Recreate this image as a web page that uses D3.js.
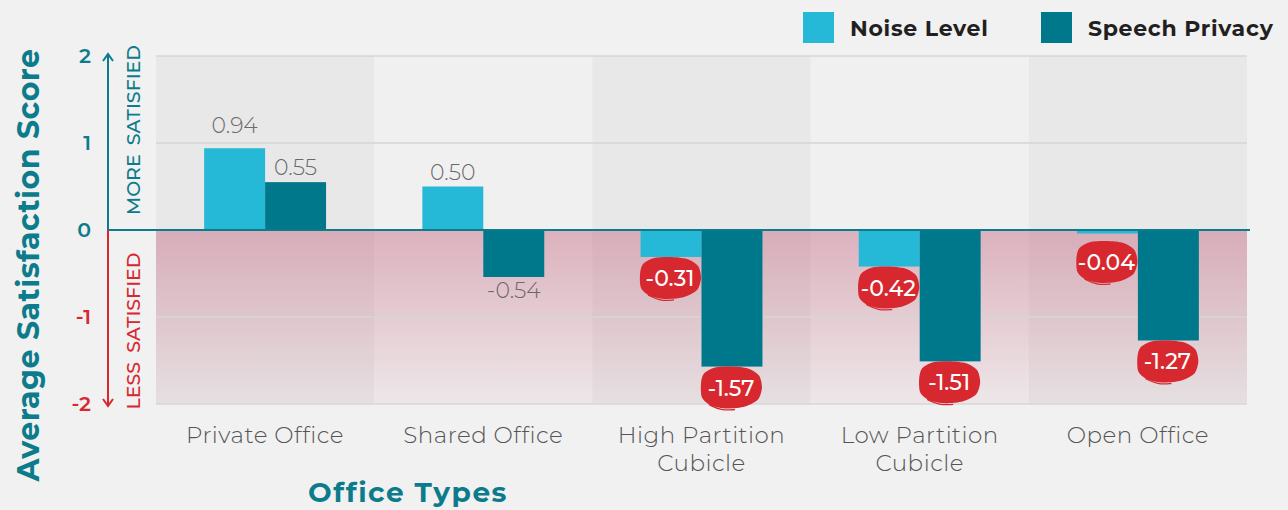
<!DOCTYPE html>
<html><head><meta charset="utf-8">
<script src="https://cdn.jsdelivr.net/npm/d3@7"></script>
<style>
html,body{margin:0;padding:0;background:#f1f1f1;}
svg{display:block;}
</style></head>
<body><svg id="c" width="1288" height="510"></svg>
<script>
const categories = [["Private Office"],["Shared Office"],["High Partition","Cubicle"],["Low Partition","Cubicle"],["Open Office"]];
const seriesNames = ["Noise Level","Speech Privacy"];
const noiseLevel = [0.94, 0.50, -0.31, -0.42, -0.04];
const speechPrivacy = [0.55, -0.54, -1.57, -1.51, -1.27];
const yTicks = [2, 1, 0, -1, -2];

(function(){
const colors = {noise:"#26b9d7", speech:"#00788b", teal:"#0c7b8b", red:"#d8282f"};
const svg = d3.select("#c");
const mLeft = 156, mRight = 1247, mTop = 56, mBottom = 404;
const font = "'Montserrat','Open Sans','Noto Sans',sans-serif";

const x = d3.scaleBand().domain(d3.range(categories.length)).range([mLeft, mRight]).padding(0);
const xi = d3.scaleBand().domain([0,1]).range([0, x.bandwidth()]).paddingOuter(0.79).paddingInner(0);
const y = d3.scaleLinear().domain([-2, 2]).range([mBottom, mTop]);

const defs = svg.append("defs");
const g = defs.append("linearGradient").attr("id","pink").attr("x1",0).attr("y1",0).attr("x2",0).attr("y2",1);
g.append("stop").attr("offset","0%").attr("stop-color","rgb(192,90,118)").attr("stop-opacity",0.42);
g.append("stop").attr("offset","100%").attr("stop-color","rgb(192,90,118)").attr("stop-opacity",0.06);

svg.append("g").selectAll("rect").data(categories).join("rect")
  .attr("x",(d,i)=>x(i)).attr("y",y(2)).attr("width",x.bandwidth()).attr("height",y(-2)-y(2))
  .attr("fill",(d,i)=> i%2===0 ? "#e8e8e8" : "#f0f0f0");

svg.append("rect").attr("x",mLeft).attr("y",y(0)).attr("width",mRight-mLeft).attr("height",y(-2)-y(0)).attr("fill","url(#pink)");

svg.append("g").selectAll("line").data(yTicks.filter(t=>t!==0)).join("line")
  .attr("x1",mLeft).attr("x2",mRight).attr("y1",d=>y(d)).attr("y2",d=>y(d))
  .attr("stroke","#d6d6d6").attr("stroke-width",1.5);

const data = categories.map((c,i)=>[noiseLevel[i], speechPrivacy[i]]);
const groups = svg.append("g").selectAll("g").data(data).join("g").attr("transform",(d,i)=>`translate(${x(i)},0)`);
groups.selectAll("rect").data(d=>d.map((v,k)=>({v,k}))).join("rect")
  .attr("x",d=>xi(d.k)).attr("width",xi.bandwidth())
  .attr("y",d=>y(Math.max(0,d.v))).attr("height",d=>Math.abs(y(d.v)-y(0)))
  .attr("fill",d=>d.k===0?colors.noise:colors.speech);

svg.append("line").attr("x1",108).attr("x2",mRight+3).attr("y1",y(0)).attr("y2",y(0)).attr("stroke",colors.teal).attr("stroke-width",2.2);

const blobPts = [[-30,-4],[-27,-14],[-16,-20],[0,-21],[17,-19],[28,-12],[31,0],[27,12],[14,19],[-4,21],[-20,18],[-29,10]];
const blobLine = d3.line().curve(d3.curveCardinalClosed.tension(0.2));
const swoosh = d3.line().curve(d3.curveBasis);
data.forEach((vals,i)=>{
  vals.forEach((v,k)=>{
    const cx = x(i)+xi(k)+xi.bandwidth()/2;
    if (v >= 0 || (k===1 && v > -1)) {
      let ty;
      if (v>=0) ty = y(v) - (k===0 && i===0 ? 15 : 7);
      else ty = y(v) + 21;
      svg.append("text").attr("x",cx).attr("y",ty).attr("text-anchor","middle")
        .attr("font-family",font).attr("font-weight",300).attr("font-size",22).attr("fill","#6a6a6a")
        .text(v.toFixed(2));
    } else {
      const cy = Math.max(y(v) + 21, y(0) + 32);
      const bg = svg.append("g").attr("transform",`translate(${cx-1},${cy})`);
      bg.append("path").attr("d",blobLine(blobPts)).attr("fill",colors.red);
      bg.append("path").attr("d",swoosh([[-22,17],[-10,23],[4,22]])).attr("fill","none").attr("stroke",colors.red).attr("stroke-width",1.3);
      bg.append("text").attr("x",0).attr("y",8).attr("text-anchor","middle")
        .attr("font-family",font).attr("font-weight",500).attr("font-size",22).attr("fill","#ffffff")
        .text(v.toFixed(2));
    }
  });
});

svg.append("g").selectAll("text").data(yTicks).join("text")
  .attr("x",91).attr("y",d=>y(d)+7).attr("text-anchor","end")
  .attr("font-family",font).attr("font-weight",600).attr("font-size",20.5)
  .attr("fill",d=>d>=0?colors.teal:colors.red).text(d=>d);

svg.append("line").attr("x1",108).attr("x2",108).attr("y1",y(2)-1).attr("y2",y(0)).attr("stroke",colors.teal).attr("stroke-width",2);
svg.append("line").attr("x1",108).attr("x2",108).attr("y1",y(0)).attr("y2",y(-2)+1).attr("stroke",colors.red).attr("stroke-width",2);
svg.append("path").attr("d",`M${103},${y(2)+5} L108,${y(2)-2} L113,${y(2)+5}`).attr("fill","none").attr("stroke",colors.teal).attr("stroke-width",2);
svg.append("path").attr("d",`M${103},${y(-2)-5} L108,${y(-2)+2} L113,${y(-2)-5}`).attr("fill","none").attr("stroke",colors.red).attr("stroke-width",2);

svg.append("text").attr("transform",`translate(140,130) rotate(-90)`).attr("text-anchor","middle")
  .attr("font-family",font).attr("font-weight",500).attr("font-size",19).attr("word-spacing",4).attr("fill",colors.teal).text("MORE SATISFIED");
svg.append("text").attr("transform",`translate(140,331) rotate(-90)`).attr("text-anchor","middle")
  .attr("font-family",font).attr("font-weight",500).attr("font-size",19).attr("word-spacing",4).attr("fill",colors.red).text("LESS SATISFIED");

svg.append("text").attr("transform",`translate(39,265) rotate(-90)`).attr("text-anchor","middle")
  .attr("font-family",font).attr("font-weight",700).attr("font-size",30).attr("letter-spacing",0.5).attr("fill",colors.teal).text("Average Satisfaction Score");

const xl = svg.append("g").selectAll("text").data(categories).join("text")
  .attr("x",(d,i)=>x(i)+x.bandwidth()/2).attr("y",443).attr("text-anchor","middle")
  .attr("font-family",font).attr("font-weight",300).attr("font-size",23).attr("letter-spacing",0.5).attr("fill","#555");
xl.selectAll("tspan").data(d=>d).join("tspan").attr("x",function(){return d3.select(this.parentNode).attr("x");})
  .attr("dy",(d,j)=>j===0?0:28).text(d=>d);

svg.append("text").attr("x",408).attr("y",502).attr("text-anchor","middle")
  .attr("font-family",font).attr("font-weight",700).attr("font-size",28).attr("letter-spacing",1.5).attr("fill",colors.teal).text("Office Types");

const legX = [803, 1041];
seriesNames.forEach((n,k)=>{
  svg.append("rect").attr("x",legX[k]).attr("y",12).attr("width",31).attr("height",31).attr("fill",k===0?colors.noise:colors.speech);
  svg.append("text").attr("x",legX[k]+47).attr("y",36).attr("font-family",font).attr("font-weight",700)
    .attr("font-size",22).attr("letter-spacing",0.7).attr("fill","#231f20").text(n);
});
})();
</script></body></html>
